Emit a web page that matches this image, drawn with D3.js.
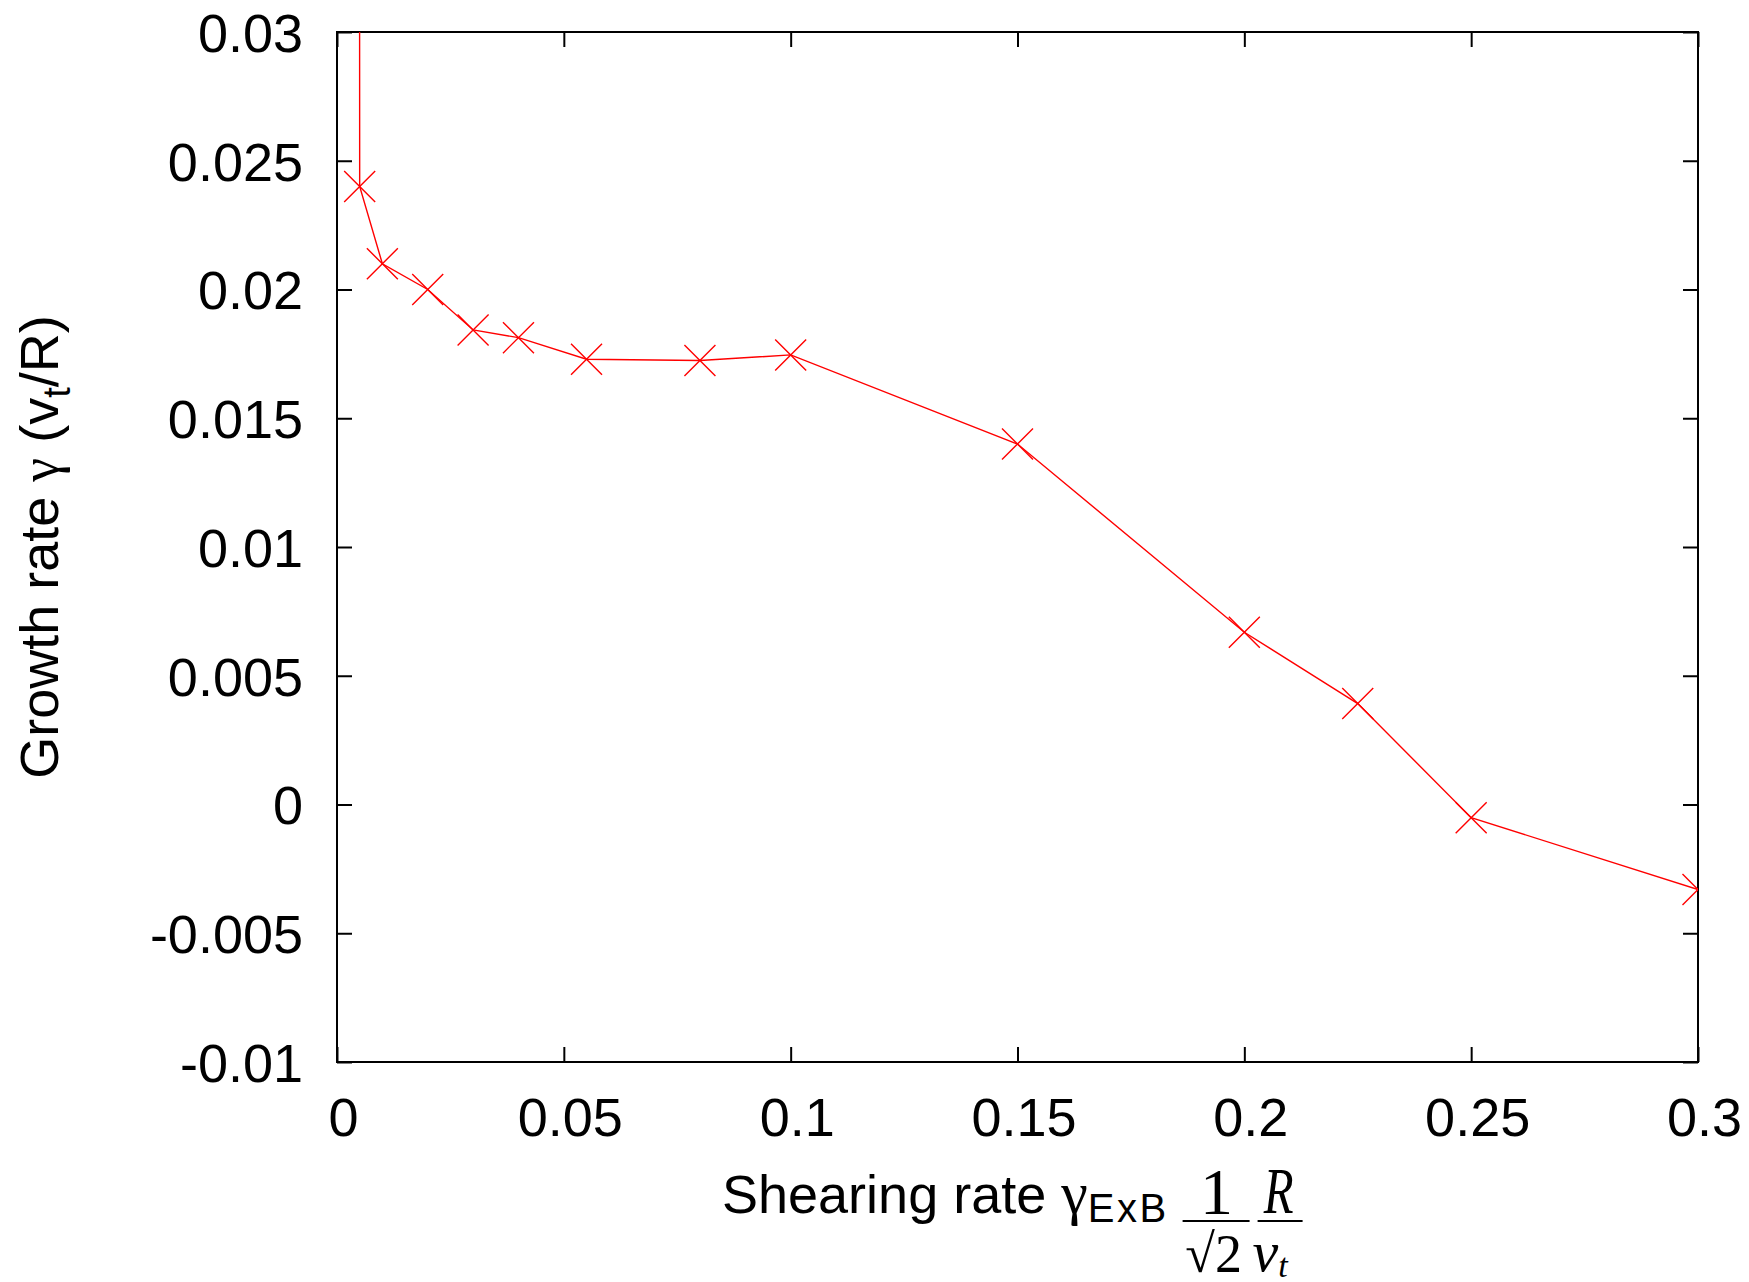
<!DOCTYPE html>
<html>
<head>
<meta charset="utf-8">
<script src="https://cdn.jsdelivr.net/npm/d3@7"></script>
<style>
  html, body { margin: 0; padding: 0; background: #fff; }
  svg { display: block; }
</style>
</head>
<body>
<svg id="chart" width="1749" height="1282"></svg>
<script>
// ---- data ----
const shearRate = [0.0049, 0.005, 0.01, 0.02, 0.03, 0.04, 0.055, 0.08, 0.1, 0.15, 0.2, 0.225, 0.25, 0.3];
const growthRate = [0.06, 0.0240, 0.0210, 0.0200, 0.01843, 0.01813, 0.01729, 0.01724, 0.01746, 0.0140, 0.00669, 0.00392, -0.00051, -0.00330];
const xTickValues = [0, 0.05, 0.1, 0.15, 0.2, 0.25, 0.3];
const xTickLabels = ["0", "0.05", "0.1", "0.15", "0.2", "0.25", "0.3"];
const yTickValues = [-0.01, -0.005, 0, 0.005, 0.01, 0.015, 0.02, 0.025, 0.03];
const yTickLabels = ["-0.01", "-0.005", "0", "0.005", "0.01", "0.015", "0.02", "0.025", "0.03"];

(function () {
// ---- layout ----
const pLeft = 337, pRight = 1698, pTop = 32, pBottom = 1062;
const svg = d3.select("#chart");
const x = d3.scaleLinear().domain([0, 0.3]).range([pLeft, pRight]);
const y = d3.scaleLinear().domain([-0.01, 0.03]).range([pBottom, pTop]);
const sans = "'Liberation Sans', Arial, sans-serif";
const serif = "'Liberation Serif', 'Times New Roman', serif";
const tickFont = 54;

svg.append("defs").append("clipPath").attr("id", "plotclip")
  .append("rect").attr("x", pLeft).attr("y", pTop).attr("width", pRight - pLeft).attr("height", pBottom - pTop);

// axes
const fmtX = d => xTickLabels[xTickValues.indexOf(d)];
const fmtY = d => yTickLabels[yTickValues.indexOf(d)];

const gx = svg.append("g").attr("transform", `translate(0,${pBottom})`)
  .call(d3.axisBottom(x).tickValues(xTickValues).tickFormat(fmtX).tickSize(-15).tickPadding(36));
const gxTop = svg.append("g").attr("transform", `translate(0,${pTop})`)
  .call(d3.axisTop(x).tickValues(xTickValues).tickFormat("").tickSize(-15));
const gy = svg.append("g").attr("transform", `translate(${pLeft},0)`)
  .call(d3.axisLeft(y).tickValues(yTickValues).tickFormat(fmtY).tickSize(-15).tickPadding(34));
const gyRight = svg.append("g").attr("transform", `translate(${pRight},0)`)
  .call(d3.axisRight(y).tickValues(yTickValues).tickFormat("").tickSize(-15));

[gx, gxTop, gy, gyRight].forEach(g => {
  g.select(".domain").remove();
  g.selectAll(".tick line").attr("stroke", "#000").attr("stroke-width", 2);
  g.selectAll(".tick text").attr("font-family", sans).attr("font-size", tickFont).attr("fill", "#000");
});
gy.selectAll(".tick text").attr("dy", "0.36em");
gx.selectAll(".tick text").attr("dx", 6);

// border
svg.append("rect").attr("x", pLeft).attr("y", pTop).attr("width", pRight - pLeft).attr("height", pBottom - pTop)
  .attr("fill", "none").attr("stroke", "#000").attr("stroke-width", 2);

// data
const pts = shearRate.map((d, i) => [d, growthRate[i]]);
const plot = svg.append("g").attr("clip-path", "url(#plotclip)");
plot.append("path").datum(pts)
  .attr("d", d3.line().x(d => x(d[0])).y(d => y(d[1])))
  .attr("fill", "none").attr("stroke", "#ff0000").attr("stroke-width", 1.4);
const m = 15.5;
plot.selectAll("path.mk").data(pts).enter().append("path").attr("class", "mk")
  .attr("d", d => {
    const cx = x(d[0]), cy = y(d[1]);
    return `M${cx - m},${cy - m}L${cx + m},${cy + m}M${cx - m},${cy + m}L${cx + m},${cy - m}`;
  })
  .attr("fill", "none").attr("stroke", "#ff0000").attr("stroke-width", 1.4);

// y label
const yl = svg.append("text").attr("transform", `translate(58,${(pTop + pBottom) / 2}) rotate(-90)`)
  .attr("text-anchor", "middle").attr("font-family", sans).attr("font-size", 54).attr("fill", "#000");
yl.append("tspan").text("Growth rate ");
yl.append("tspan").attr("font-family", serif).text("γ");
yl.append("tspan").text(" (v");
yl.append("tspan").attr("font-size", 38).attr("dy", 12).text("t");
yl.append("tspan").attr("dy", -12).text("/R)");

// x label
const base = 1213;
const xl = svg.append("text").attr("x", 722).attr("y", base)
  .attr("font-family", sans).attr("font-size", 54).attr("fill", "#000");
xl.append("tspan").text("Shearing rate ");
xl.append("tspan").attr("font-family", serif).attr("font-size", 60).text("γ");
xl.append("tspan").attr("font-size", 40).attr("letter-spacing", 2.5).attr("dy", 9).text("ExB");
const xlEnd = 722 + xl.node().getComputedTextLength();
const f1 = xlEnd + 14;
const lineY = base + 8;
svg.append("line").attr("x1", f1).attr("x2", f1 + 67).attr("y1", lineY).attr("y2", lineY)
  .attr("stroke", "#000").attr("stroke-width", 2);
svg.append("text").attr("x", f1 + 34).attr("y", base + 1).attr("text-anchor", "middle")
  .attr("font-family", serif).attr("font-size", 66).text("1");
svg.append("text").attr("x", f1 + 31).attr("y", base + 59).attr("text-anchor", "middle")
  .attr("font-family", serif).attr("font-size", 54).text("√2");
svg.append("line").attr("x1", f1 + 75).attr("x2", f1 + 120).attr("y1", lineY).attr("y2", lineY)
  .attr("stroke", "#000").attr("stroke-width", 2);
svg.append("text").attr("transform", `translate(${f1 + 96},${base}) scale(0.74,1)`).attr("text-anchor", "middle")
  .attr("font-family", serif).attr("font-style", "italic").attr("font-size", 66).text("R");
const vt = svg.append("text").attr("x", f1 + 70).attr("y", base + 58)
  .attr("font-family", serif).attr("font-style", "italic").attr("font-size", 58);
vt.append("tspan").text("v");
vt.append("tspan").attr("font-size", 34).attr("dy", 6).text("t");
})();
</script>
</body>
</html>
